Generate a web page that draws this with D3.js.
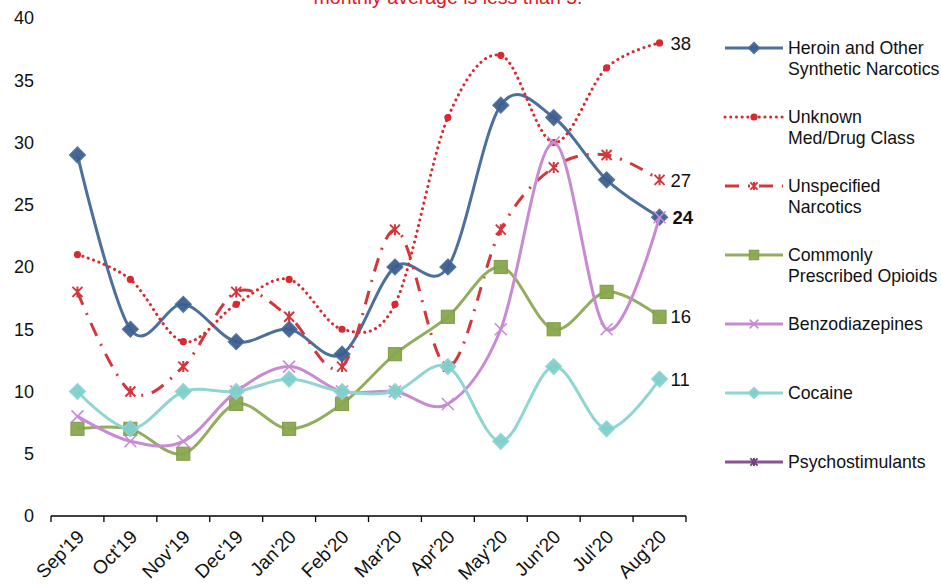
<!DOCTYPE html>
<html><head><meta charset="utf-8">
<script src="https://cdn.jsdelivr.net/npm/d3@7"></script>
<style>
body{margin:0;background:#fff;}
svg{display:block;font-family:"Liberation Sans",Arial,sans-serif;}
</style></head>
<body><svg id="c" width="941" height="584"></svg>
<script>
const months = ["Sep'19","Oct'19","Nov'19","Dec'19","Jan'20","Feb'20","Mar'20","Apr'20","May'20","Jun'20","Jul'20","Aug'20"];
const yTicks = [0,5,10,15,20,25,30,35,40];
const heroin = [29,15,17,14,15,13,20,20,33,32,27,24];
const unknownClass = [21,19,14,17,19,15,17,32,37,30,36,38];
const unspecified = [18,10,12,18,16,12,23,12,23,28,29,27];
const prescribed = [7,7,5,9,7,9,13,16,20,15,18,16];
const benzo = [8,6,6,10,12,10,10,9,15,30,15,24];
const cocaine = [10,7,10,10,11,10,10,12,6,12,7,11];
const psycho = [];
const seriesNames = ["Heroin and Other|Synthetic Narcotics","Unknown|Med/Drug Class","Unspecified|Narcotics","Commonly|Prescribed Opioids","Benzodiazepines","Cocaine","Psychostimulants"];
const endLabels = [{s:1,t:"38"},{s:2,t:"27"},{s:0,t:"24",bold:true},{s:3,t:"16"},{s:5,t:"11"}];
const titleText = "monthly average is less than 5.";

const styles = [
  {color:"#4d6f9c", dash:null, cap:"butt", marker:"diamond", mfill:"#3d5f8e", mstroke:"#4d6f9c", ms:8},
  {color:"#d9282f", dash:"0.1 5.6", cap:"round", marker:"circle", mfill:"#d9282f", mstroke:"#d9282f", ms:3.6},
  {color:"#d3363b", dash:"14 9 2 9", cap:"butt", marker:"asterisk", mfill:"none", mstroke:"#d3363b", ms:5},
  {color:"#93ad5f", dash:null, cap:"butt", marker:"square", mfill:"#89a74f", mstroke:"#7f9d46", ms:6.5},
  {color:"#c98ad4", dash:null, cap:"butt", marker:"x", mfill:"none", mstroke:"#c98ad4", ms:6},
  {color:"#8fd5d2", dash:null, cap:"butt", marker:"diamond", mfill:"#80cfcb", mstroke:"#8fd5d2", ms:8},
  {color:"#8c5096", dash:null, cap:"butt", marker:"asterisk", mfill:"none", mstroke:"#7a3d85", ms:5}
];
const data = [heroin,unknownClass,unspecified,prescribed,benzo,cocaine,psycho];

const svg = d3.select("#c");
const x = d3.scaleBand().domain(months).range([51,686]);
const y = d3.scaleLinear().domain([0,40]).range([516,18]);
const cx = m => x(m)+x.bandwidth()/2;

// title (cut at top, as in the reference)
svg.append("text").attr("x",448).attr("y",4).attr("text-anchor","middle")
  .attr("font-size",19.5).attr("fill","#e3161c").text(titleText);

// y axis labels
svg.append("g").selectAll("text").data(yTicks).join("text")
  .attr("x",34).attr("y",d=>y(d)).attr("dy","0.36em").attr("text-anchor","end")
  .attr("font-size",18).attr("fill","#111").text(d=>d);

// x axis
const xa = svg.append("g").attr("transform","translate(0,516)");
xa.append("line").attr("x1",51).attr("x2",686).attr("stroke","#000").attr("stroke-width",1.3);
const tickPos = months.map(m=>x(m)).concat([686]);
xa.selectAll("line.t").data(tickPos).join("line").attr("class","t")
  .attr("x1",d=>d).attr("x2",d=>d).attr("y1",0).attr("y2",6).attr("stroke","#000").attr("stroke-width",1.3);
xa.selectAll("text").data(months).join("text")
  .attr("transform",d=>`translate(${cx(d)+8},22) rotate(-45)`)
  .attr("text-anchor","end").attr("font-size",19).attr("fill","#111").text(d=>d);

function drawMarker(g, type, s, st){
  if(type==="diamond"){
    g.append("path").attr("d",`M0,${-s}L${s},0L0,${s}L${-s},0Z`).attr("fill",st.mfill).attr("stroke",st.mstroke).attr("stroke-width",1.2).attr("opacity",0.95);
  } else if(type==="square"){
    g.append("rect").attr("x",-s).attr("y",-s).attr("width",2*s).attr("height",2*s).attr("fill",st.mfill).attr("stroke",st.mstroke).attr("stroke-width",1.2).attr("opacity",0.95);
  } else if(type==="circle"){
    g.append("circle").attr("r",s).attr("fill",st.mfill);
  } else if(type==="x"){
    g.append("path").attr("d",`M${-s},${-s}L${s},${s}M${-s},${s}L${s},${-s}`).attr("stroke",st.mstroke).attr("stroke-width",1.6);
  } else if(type==="asterisk"){
    g.append("path").attr("d",`M${-s},${-s}L${s},${s}M${-s},${s}L${s},${-s}M0,${-s-0.5}L0,${s+0.5}`).attr("stroke",st.mstroke).attr("stroke-width",2);
  }
}

const line = d3.line().x((d,i)=>cx(months[i])).y(d=>y(d)).curve(d3.curveCardinal.tension(0));
data.forEach((vals,k)=>{
  const st = styles[k];
  if(!vals.length) return;
  const g = svg.append("g");
  g.append("path").attr("d",line(vals)).attr("fill","none").attr("stroke",st.color)
    .attr("stroke-width",3).attr("stroke-dasharray",st.dash).attr("stroke-linecap",st.cap);
  vals.forEach((v,i)=>{
    const mg = g.append("g").attr("transform",`translate(${cx(months[i])},${y(v)})`);
    drawMarker(mg, st.marker, st.ms, st);
  });
});

// end labels
svg.append("g").selectAll("text").data(endLabels).join("text")
  .attr("x",d=>cx(months[11])+(d.bold?13:11)).attr("y",d=>y(data[d.s][11])).attr("dy","0.36em")
  .attr("font-size",18.5).attr("font-weight",d=>d.bold?"bold":"normal").attr("fill","#111").text(d=>d.t);

// legend
const lg = svg.append("g");
seriesNames.forEach((name,k)=>{
  const st = styles[k];
  const yy = 48 + k*69;
  const row = lg.append("g");
  row.append("line").attr("x1",725).attr("x2",783).attr("y1",yy).attr("y2",yy)
    .attr("stroke",st.color).attr("stroke-width",3).attr("stroke-dasharray",st.dash).attr("stroke-linecap",st.cap);
  const mg = row.append("g").attr("transform",`translate(754,${yy})`);
  drawMarker(mg, st.marker, st.marker==="circle"?3.6:st.ms*0.72, st);
  const parts = name.split("|");
  const t = row.append("text").attr("x",788).attr("y",yy+6).attr("font-size",17.7).attr("fill","#111");
  parts.forEach((p,j)=>t.append("tspan").attr("x",788).attr("dy",j?21:0).text(p));
});
</script></body></html>
